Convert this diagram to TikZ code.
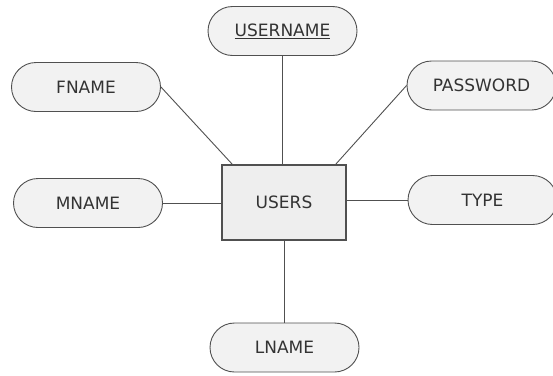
\documentclass[tikz,border=0pt]{standalone}
\usepackage{fontspec}
\setmainfont{DejaVu Sans}
\definecolor{pillfill}{HTML}{F2F2F2}
\definecolor{boxfill}{HTML}{EEEEEE}
\definecolor{edgecol}{HTML}{505050}
\definecolor{txtcol}{HTML}{333333}
\begin{document}
\begin{tikzpicture}[x=1pt,y=-1pt,
  attr/.style={draw=edgecol,fill=pillfill,line width=0.9pt,rounded corners=24.5pt,
    minimum width=149pt,minimum height=49pt,inner sep=0pt,text=txtcol,
    font=\fontsize{17}{20}\selectfont},
  entity/.style={draw=edgecol,fill=boxfill,line width=1.1pt,minimum width=124pt,
    minimum height=75pt,inner sep=0pt,text=txtcol,font=\fontsize{17}{20}\selectfont},
  conn/.style={draw=edgecol,line width=0.9pt}]
\useasboundingbox (0,0) rectangle (553,375);
\node[entity] (users) at (284,202.5) {USERS};
\node[attr] (username) at (282.5,31) {\underline{USERNAME}};
\node[attr] (fname) at (86,87) {FNAME};
\node[attr] (password) at (481.5,85.5) {PASSWORD};
\node[attr] (mname) at (88,203) {MNAME};
\node[attr] (type) at (482.5,200) {TYPE};
\node[attr] (lname) at (284.5,347.5) {LNAME};
\draw[conn] (username.south) -- (username.south |- users.north);
\draw[conn] (fname.east) -- ([xshift=11pt]users.north west);
\draw[conn] (password.west) -- ([xshift=-11pt]users.north east);
\draw[conn] (mname.east) -- (users.west |- mname.east);
\draw[conn] (type.west) -- (users.east |- type.west);
\draw[conn] (lname.north) -- (lname.north |- users.south);
\end{tikzpicture}
\end{document}
